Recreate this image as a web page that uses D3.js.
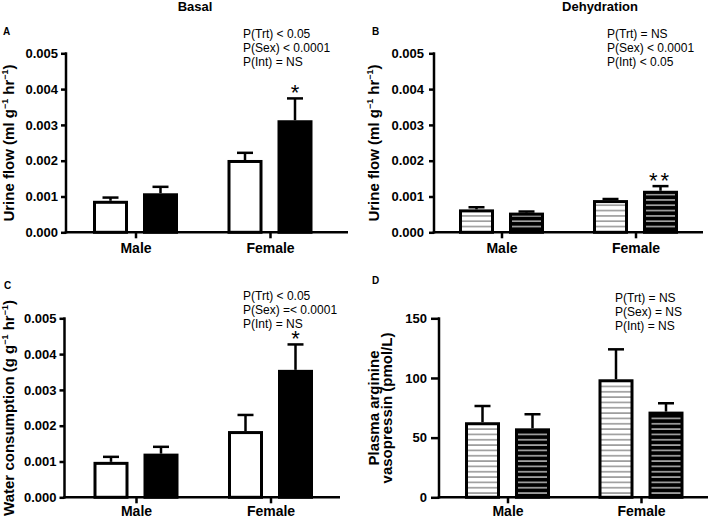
<!DOCTYPE html>
<html><head><meta charset="utf-8">
<script src="https://cdn.jsdelivr.net/npm/d3@7"></script>
<style>
body{margin:0;background:#fff}
svg{display:block}
text{font-family:"Liberation Sans",Arial,Helvetica,sans-serif;fill:#000}
</style>
</head><body>
<svg id="c" width="709" height="519"></svg>
<script>
// ---------------- data ----------------
const groups = ["Male", "Female"];
const treatments = ["Control", "Treated"];

const basalUrineMean = [[0.00088, 0.00109], [0.00202, 0.00313]];
const basalUrineErr  = [[0.00009, 0.00018], [0.00020, 0.00061]];
const dehydUrineMean = [[0.00064, 0.00055], [0.00090, 0.00116]];
const dehydUrineErr  = [[0.00006, 0.00003], [0.00003, 0.00013]];
const waterMean      = [[0.00099, 0.00122], [0.00185, 0.00356]];
const waterErr       = [[0.00014, 0.00019], [0.00045, 0.00071]];
const avpMean        = [[62.9, 57.8], [98.9, 71.8]];
const avpErr         = [[13.6, 11.8], [25.1, 7.0]];

const flowTicks = [0, 0.001, 0.002, 0.003, 0.004, 0.005];
const avpTicks  = [0, 50, 100, 150];

const statsA = ["P(Trt) < 0.05", "P(Sex) < 0.0001", "P(Int) = NS"];
const statsB = ["P(Trt) = NS", "P(Sex) < 0.0001", "P(Int) < 0.05"];
const statsC = ["P(Trt) < 0.05", "P(Sex) =< 0.0001", "P(Int) = NS"];
const statsD = ["P(Trt) = NS", "P(Sex) = NS", "P(Int) = NS"];

const sigA = [["", ""], ["", "*"]];
const sigB = [["", ""], ["", "**"]];
const sigC = [["", ""], ["", "*"]];
const sigD = [["", ""], ["", ""]];

const columnTitles = ["Basal", "Dehydration"];

// ---------------- drawing ----------------
const svg = d3.select("#c");
svg.append("rect").attr("width", 709).attr("height", 519).attr("fill", "#fff");

const defs = svg.append("defs");
function stripe(id, bg, line) {
  const p = defs.append("pattern").attr("id", id)
    .attr("patternUnits", "userSpaceOnUse").attr("width", 8).attr("height", 5.33);
  p.append("rect").attr("width", 8).attr("height", 5.33).attr("fill", bg);
  p.append("rect").attr("y", 2).attr("width", 8).attr("height", 1.4).attr("fill", line);
}
stripe("stripeW", "#fff", "#8a8a8a");
stripe("stripeB", "#000", "#c4c4c4");

const panels = [
  {letter: "A", lx: 3, ly: 35, mean: basalUrineMean, err: basalUrineErr, ticks: flowTicks, fmt: d3.format(".3f"),
   ax: 66, yt: 53.3, yb: 232.3, xEnd: 348, c0: 135.5, c1: 270, tickLen: 5, tickPad: 3, xlab: 20.5,
   fills: ["#fff", "#000"], stats: statsA, sx: 243, sy: 37.5, sig: sigA,
   title: [["Urine flow (ml g", "−1", " hr", "−1", ")"]], tx: [14], tcy: 143},
  {letter: "B", lx: 372, ly: 35, mean: dehydUrineMean, err: dehydUrineErr, ticks: flowTicks, fmt: d3.format(".3f"),
   ax: 434, yt: 53.3, yb: 232.3, xEnd: 703, c0: 501.5, c1: 635.5, tickLen: 5, tickPad: 5, xlab: 20.5,
   fills: ["url(#stripeW)", "url(#stripeB)"], stats: statsB, sx: 607, sy: 37.5, sig: sigB,
   title: [["Urine flow (ml g", "−1", " hr", "−1", ")"]], tx: [379], tcy: 143},
  {letter: "C", lx: 4, ly: 289, mean: waterMean, err: waterErr, ticks: flowTicks, fmt: d3.format(".3f"),
   ax: 64.5, yt: 318.3, yb: 497.3, xEnd: 340, c0: 136, c1: 270.5, tickLen: 5, tickPad: 3, xlab: 19.2,
   fills: ["#fff", "#000"], stats: statsC, sx: 243, sy: 300, sig: sigC,
   title: [["Water consumption (g g", "−1", " hr", "−1", ")"]], tx: [14], tcy: 408},
  {letter: "D", lx: 372, ly: 284, mean: avpMean, err: avpErr, ticks: avpTicks, fmt: d3.format("d"),
   ax: 439, yt: 318.3, yb: 497.3, xEnd: 708, c0: 507.5, c1: 641, tickLen: 8, tickPad: 4, xlab: 19.2,
   fills: ["url(#stripeW)", "url(#stripeB)"], stats: statsD, sx: 615, sy: 302, sig: sigD,
   title: [["Plasma arginine"], ["vasopressin (pmol/L)"]], tx: [378.5, 391.5], tcy: 408}
];

panels.forEach(p => {
  const g = svg.append("g");
  const y = d3.scaleLinear().domain([0, d3.max(p.ticks)]).range([p.yb, p.yt]);
  const xg = d3.scalePoint().domain(groups).range([p.c0, p.c1]);
  const xt = d3.scaleBand().domain(treatments).range([-42.5, 42.5]).paddingInner(0.3);
  const bw = xt.bandwidth();

  // bars
  groups.forEach((grp, gi) => {
    treatments.forEach((tr, ti) => {
      const v = p.mean[gi][ti], e = p.err[gi][ti];
      const x0 = xg(grp) + xt(tr);
      const cx = x0 + bw / 2;
      // error bar (upper only)
      g.append("line").attr("x1", cx).attr("x2", cx).attr("y1", y(v)).attr("y2", y(v + e))
        .attr("stroke", "#000").attr("stroke-width", 2.5);
      g.append("line").attr("x1", cx - 8).attr("x2", cx + 8).attr("y1", y(v + e)).attr("y2", y(v + e))
        .attr("stroke", "#000").attr("stroke-width", 2.5);
      g.append("rect").attr("x", x0 + 1.5).attr("y", y(v) + 1.5)
        .attr("width", bw - 3).attr("height", Math.max(0, y(0) - y(v) - 1.5))
        .attr("fill", p.fills[ti]).attr("stroke", "#000").attr("stroke-width", 3);
      const s = p.sig[gi][ti];
      if (s) {
        g.append("text").attr("x", cx).attr("y", y(v + e) + 2)
          .attr("text-anchor", "middle").attr("font-size", 22).attr("letter-spacing", s.length > 1 ? 3 : 0)
          .text(s);
      }
    });
  });

  // y axis
  const yAxis = d3.axisLeft(y).tickValues(p.ticks).tickFormat(p.fmt)
    .tickSize(p.tickLen).tickSizeOuter(0).tickPadding(p.tickPad);
  const ya = g.append("g").attr("transform", `translate(${p.ax},0)`).call(yAxis);
  ya.select(".domain").remove();
  ya.selectAll(".tick line").attr("stroke", "#000").attr("stroke-width", 2.5);
  ya.selectAll(".tick text").attr("font-size", 13).attr("font-weight", "bold")
    .attr("font-family", "Liberation Sans, Arial, sans-serif").attr("fill", "#000");
  g.append("line").attr("x1", p.ax).attr("x2", p.ax).attr("y1", p.yt - 1).attr("y2", p.yb + 1.25)
    .attr("stroke", "#000").attr("stroke-width", 2.5);

  // x axis
  const xAxis = d3.axisBottom(xg).tickSize(6).tickSizeOuter(0).tickPadding(6);
  const xa = g.append("g").attr("transform", `translate(0,${p.yb})`).call(xAxis);
  xa.select(".domain").remove();
  xa.selectAll(".tick line").attr("stroke", "#000").attr("stroke-width", 2.5);
  xa.selectAll(".tick text").attr("font-size", 14).attr("font-weight", "bold")
    .attr("font-family", "Liberation Sans, Arial, sans-serif").attr("fill", "#000")
    .attr("dy", 0).attr("y", p.xlab);
  g.append("line").attr("x1", p.ax - 1.25).attr("x2", p.xEnd).attr("y1", p.yb).attr("y2", p.yb)
    .attr("stroke", "#000").attr("stroke-width", 2.5);

  // panel letter
  g.append("text").attr("x", p.lx).attr("y", p.ly).attr("font-size", 10).attr("font-weight", "bold").text(p.letter);

  // stats text
  p.stats.forEach((s, i) => {
    g.append("text").attr("x", p.sx).attr("y", p.sy + i * 14).attr("font-size", 12).text(s);
  });

  // y title
  p.title.forEach((parts, li) => {
    const t = g.append("text")
      .attr("transform", `translate(${p.tx[li]},${p.tcy}) rotate(-90)`)
      .attr("text-anchor", "middle").attr("font-size", 15).attr("font-weight", "bold");
    parts.forEach((part, k) => {
      const ts = t.append("tspan").text(part);
      if (k % 2 === 1) ts.attr("font-size", 9).attr("dy", -6);
      else if (k > 0) ts.attr("dy", 6);
    });
  });
});

// column titles
svg.append("text").attr("x", 195).attr("y", 11).attr("text-anchor", "middle")
  .attr("font-size", 13).attr("font-weight", "bold").text(columnTitles[0]);
svg.append("text").attr("x", 600).attr("y", 11).attr("text-anchor", "middle")
  .attr("font-size", 13).attr("font-weight", "bold").text(columnTitles[1]);
</script>
</body></html>
